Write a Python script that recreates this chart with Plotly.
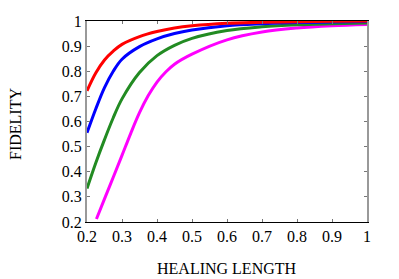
import plotly.graph_objects as go

x_main = [0.2, 0.225, 0.25, 0.275, 0.3, 0.35, 0.4, 0.45, 0.5, 0.6, 0.7, 0.8, 0.9, 1.0]
red = [0.722, 0.793, 0.845, 0.88, 0.907, 0.938, 0.958, 0.972, 0.981, 0.991, 0.995, 0.997, 0.999, 1.0]
blue = [0.555, 0.65, 0.735, 0.80, 0.848, 0.898, 0.929, 0.95, 0.964, 0.981, 0.989, 0.994, 0.996, 0.998]
green = [0.333, 0.435, 0.528, 0.615, 0.69, 0.795, 0.862, 0.903, 0.931, 0.962, 0.977, 0.985, 0.989, 0.992]
x_mag = [0.227, 0.25, 0.275, 0.3, 0.325, 0.35, 0.375, 0.4, 0.425, 0.45, 0.5, 0.6, 0.7, 0.8, 0.9, 1.0]
magenta = [0.212, 0.292, 0.378, 0.465, 0.553, 0.635, 0.703, 0.757, 0.797, 0.828, 0.868,
           0.925, 0.956, 0.972, 0.981, 0.986]

x_ticks = [0.2, 0.3, 0.4, 0.5, 0.6, 0.7, 0.8, 0.9, 1.0]
x_ticklabels = ["0.2", "0.3", "0.4", "0.5", "0.6", "0.7", "0.8", "0.9", "1"]
y_ticks = [0.2, 0.3, 0.4, 0.5, 0.6, 0.7, 0.8, 0.9, 1.0]
y_ticklabels = ["0.2", "0.3", "0.4", "0.5", "0.6", "0.7", "0.8", "0.9", "1"]

FONT = "Liberation Serif, Times New Roman, serif"
FS = 16

# the page body has an 8px default margin; the figure is sized to fit the window
OFF = 8
W, H = 399 - OFF, 279 - OFF
L, R, T, B = 87 - OFF, 32, 21 - OFF, 57
plot_w = W - L - R
plot_h = H - T - B

fig = go.Figure()
for xs, ys, col in [(x_mag, magenta, "#ff00ff"), (x_main, green, "#228b22"),
                    (x_main, blue, "#0000ff"), (x_main, red, "#ff0000")]:
    fig.add_trace(go.Scatter(x=xs, y=ys, mode="lines",
                             line=dict(color=col, width=3, shape="spline", smoothing=1.0),
                             showlegend=False, hoverinfo="skip"))

fig.update_layout(
    width=W, height=H,
    margin=dict(l=L, r=R, t=T, b=B, autoexpand=False),
    paper_bgcolor="white", plot_bgcolor="white",
    font=dict(family=FONT, size=FS, color="black"),
    xaxis=dict(range=[0.2, 1.0], tickvals=x_ticks, ticktext=x_ticklabels,
               automargin=False,
               showgrid=False, zeroline=False, showline=True, linecolor="#000000",
               linewidth=1, mirror="ticks", ticks="inside", ticklen=3,
               tickcolor="#777777", tickfont=dict(family=FONT, size=FS)),
    yaxis=dict(range=[0.2, 1.0], tickvals=y_ticks, ticktext=y_ticklabels,
               automargin=False,
               showgrid=False, zeroline=False, showline=True, linecolor="#999999",
               linewidth=2, mirror="ticks", ticks="inside", ticklen=3,
               tickcolor="#777777", tickfont=dict(family=FONT, size=FS)),
    annotations=[
        dict(text="HEALING LENGTH", x=(227 - 87) / plot_w, y=(222 - 268) / plot_h,
             xref="paper", yref="paper", xanchor="center", yanchor="middle",
             showarrow=False, font=dict(family=FONT, size=FS)),
        dict(text="FIDELITY", x=(15 - 87) / plot_w, y=(222 - 124) / plot_h,
             xref="paper", yref="paper", xanchor="center", yanchor="middle",
             textangle=-90, showarrow=False, font=dict(family=FONT, size=FS)),
    ],
)

fig.write_html("out.html")
